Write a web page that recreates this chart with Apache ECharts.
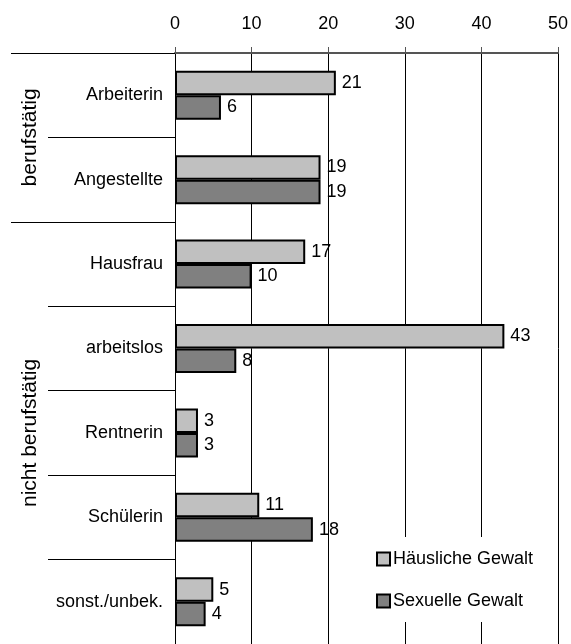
<!DOCTYPE html>
<html>
<head>
<meta charset="utf-8">
<script src="https://cdn.jsdelivr.net/npm/echarts@6/dist/echarts.min.js"></script>
<style>
  html, body { margin: 0; padding: 0; background: #fff; }
  #chart { width: 571px; height: 644px; }
</style>
</head>
<body>
<div id="chart"></div>
<script>
// data
const categories = ["Arbeiterin", "Angestellte", "Hausfrau", "arbeitslos", "Rentnerin", "Schülerin", "sonst./unbek."];
const haeuslich = [21, 19, 17, 43, 3, 11, 5];
const sexuell = [6, 19, 10, 8, 3, 18, 4];
const groupNames = ["berufstätig", "nicht berufstätig"];
const groupSizes = [2, 5];
const xTicks = [0, 10, 20, 30, 40, 50];

// index where each group starts (for the long separator lines)
const groupStarts = [];
let acc = 0;
groupSizes.forEach(n => { groupStarts.push(acc); acc += n; });

const font = "Liberation Sans, Arial, sans-serif";
const chart = echarts.init(document.getElementById("chart"));

chart.setOption({
  animation: false,
  textStyle: { fontFamily: font },
  grid: { left: 175, top: 53, width: 384, height: 595 },
  legend: {
    orient: "vertical",
    left: 366,
    top: 537,
    padding: [13, 10, 12, 10],
    backgroundColor: "#fff",
    itemWidth: 13,
    itemHeight: 13,
    itemGap: 24,
    icon: "rect",
    textStyle: { fontSize: 18, color: "#000", padding: [0, 0, 0, -2] },
    data: ["Häusliche Gewalt", "Sexuelle Gewalt"]
  },
  xAxis: {
    type: "value",
    position: "top",
    min: xTicks[0],
    max: xTicks[xTicks.length - 1],
    interval: 10,
    axisLine: { show: true, lineStyle: { color: "#555", width: 2 } },
    axisTick: { show: true, length: 6, lineStyle: { color: "#555" } },
    axisLabel: { fontSize: 18, color: "#000", margin: 20 },
    splitLine: { show: true, lineStyle: { color: "#000", width: 1 } }
  },
  yAxis: [
    {
      type: "category",
      data: categories,
      inverse: true,
      axisLine: { show: true, lineStyle: { color: "#000", width: 1 } },
      axisTick: { show: true, interval: 0, length: 127, lineStyle: { color: "#000" } },
      axisLabel: { fontSize: 18, color: "#000", margin: 12 }
    },
    {
      type: "category",
      data: categories,
      inverse: true,
      position: "left",
      axisLine: { show: false },
      axisLabel: { show: false },
      axisTick: {
        show: true,
        length: 164,
        interval: (index) => groupStarts.indexOf(index) >= 0,
        lineStyle: { color: "#000" }
      }
    }
  ],
  series: [
    {
      name: "Häusliche Gewalt",
      type: "bar",
      data: haeuslich,
      barWidth: 24.5,
      barGap: "0%",
      itemStyle: { color: "#c0c0c0", borderColor: "#000", borderWidth: 2 },
      label: { show: true, position: "right", distance: 6, fontSize: 18, color: "#000" }
    },
    {
      name: "Sexuelle Gewalt",
      type: "bar",
      data: sexuell,
      barWidth: 24.5,
      barGap: "0%",
      itemStyle: { color: "#808080", borderColor: "#000", borderWidth: 2 },
      label: { show: true, position: "right", distance: 6, fontSize: 18, color: "#000" }
    }
  ]
});

// group labels, centred on their category range
const groupTexts = groupNames.map((name, g) => {
  const first = categories[groupStarts[g]];
  const last = categories[groupStarts[g] + groupSizes[g] - 1];
  const y0 = chart.convertToPixel({ yAxisIndex: 0 }, first);
  const y1 = chart.convertToPixel({ yAxisIndex: 0 }, last);
  return {
    type: "text",
    x: 30,
    y: (y0 + y1) / 2,
    rotation: Math.PI / 2,
    style: {
      text: name,
      fontSize: 21,
      fontFamily: font,
      fill: "#000",
      align: "center",
      verticalAlign: "middle"
    }
  };
});
chart.setOption({ graphic: groupTexts });
</script>
</body>
</html>
